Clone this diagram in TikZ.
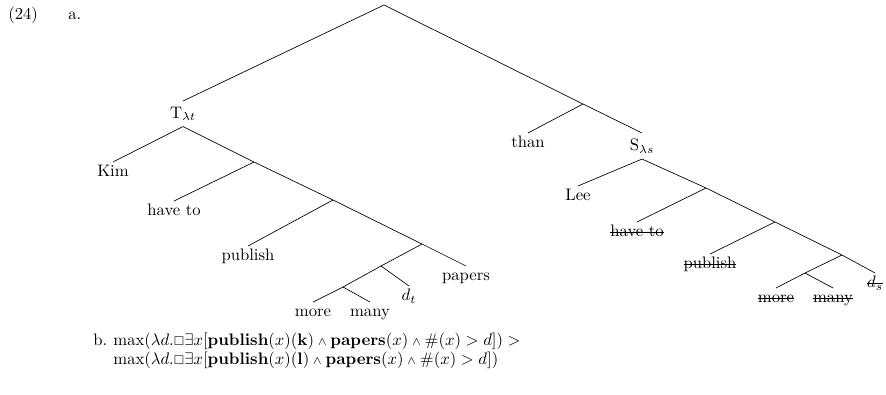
\documentclass[tikz,border=0pt]{standalone}
\usepackage{amssymb}
\newsavebox\strkbox
\newcommand{\strk}[1]{\sbox\strkbox{#1}\rlap{\rule[0.55ex]{\wd\strkbox}{0.4pt}}\usebox\strkbox}
\newcommand{\sand}{\mathbin{\scriptstyle\wedge}}
\newcommand{\nec}{\mathord{\scriptstyle\Box}}
\begin{document}
\begin{tikzpicture}[x=0.6pt,y=0.6pt,
  leaf/.style={anchor=north, inner sep=1.5pt, text height=7pt, text depth=2pt},
  cat/.style={anchor=north, inner sep=3.33pt},
  plain/.style={anchor=base west, inner sep=0pt}]
\useasboundingbox (0,0) rectangle (886,-394);

\node[plain] (num) at (8,-19) {(24)};
\node[plain] (parta) at (68,-19) {a.};

% top of the tree
\coordinate (top) at (384,-5);
\coordinate (cmp) at (583,-104);
\node[cat] (T) at (183,-101) {T$_{\lambda t}$};
\node[leaf] (than) at (528,-133) {than};
\node[cat] (S) at (642,-133) {S$_{\lambda s}$};

% main clause
\node[leaf] (kim) at (113,-162) {Kim};
\coordinate (t1) at (254,-162);
\node[leaf] (have) at (174,-201) {have to};
\coordinate (t2) at (333,-200);
\node[leaf] (pub) at (248,-246) {publish};
\coordinate (t3) at (422,-244);
\node[leaf] (pap) at (466,-266) {papers};
\coordinate (t4) at (381,-266);
\node[leaf] (dt) at (409,-286) {$d_t$};
\coordinate (t5) at (343,-287);
\node[leaf] (more) at (313,-302) {more};
\node[leaf] (many) at (370,-302) {many};

% than-clause
\node[leaf] (lee) at (578,-186) {Lee};
\coordinate (s1) at (706,-188);
\node[leaf] (have2) at (637,-222) {\strk{have to}};
\coordinate (s2) at (775,-222);
\node[leaf] (pub2) at (710,-254) {\strk{publish}};
\coordinate (s3) at (842,-255);
\node[leaf] (ds) at (875,-273) {\strk{$d_s$}};
\coordinate (s4) at (805,-273);
\node[leaf] (more2) at (776,-288) {\strk{more}};
\node[leaf] (many2) at (833,-288) {\strk{many}};

\draw (top) -- (T.north);
\draw (top) -- (cmp) -- (S.north);
\draw (cmp) -- (than.north);

\draw (T.south) -- (kim.north);
\draw (T.south) -- (t1) -- (t2) -- (t3) -- (pap.north);
\draw (t1) -- (have.north);
\draw (t2) -- (pub.north);
\draw (t3) -- (t4) -- (t5) -- (more.north);
\draw (t4) -- (dt.north);
\draw (t5) -- (many.north);

\draw (S.south) -- (lee.north);
\draw (S.south) -- (s1) -- (s2) -- (s3) -- (ds.north);
\draw (s1) -- (have2.north);
\draw (s2) -- (pub2.north);
\draw (s3) -- (s4) -- (more2.north);
\draw (s4) -- (many2.north);

% part b
\node[plain] (partb) at (93,-345) {b.};
\node[plain] (maxk) at (113,-345) {$\max(\lambda d.\nec\exists x[\mathbf{publish}(x)(\mathbf{k}) \sand \mathbf{papers}(x) \sand \#(x) > d]) >$};
\node[plain] (maxl) at (113,-364) {$\max(\lambda d.\nec\exists x[\mathbf{publish}(x)(\mathbf{l}) \sand \mathbf{papers}(x) \sand \#(x) > d])$};
\end{tikzpicture}
\end{document}
